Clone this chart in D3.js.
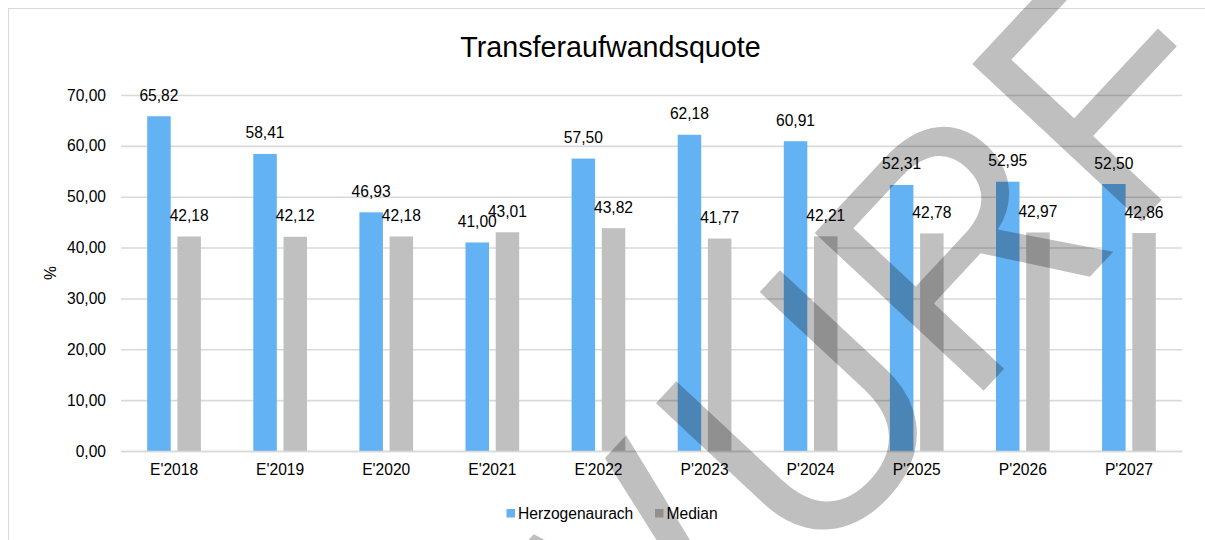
<!DOCTYPE html>
<html>
<head>
<meta charset="utf-8">
<script src="https://cdn.jsdelivr.net/npm/d3@7"></script>
<style>
  html, body { margin: 0; padding: 0; background: #fff; }
  svg { display: block; }
  text { font-family: "Liberation Sans", Arial, sans-serif; fill: #000; }
</style>
</head>
<body>
<svg id="chart" width="1205" height="540"></svg>
<script>
const categories = ["E'2018", "E'2019", "E'2020", "E'2021", "E'2022", "P'2023", "P'2024", "P'2025", "P'2026", "P'2027"];
const seriesNames = ["Herzogenaurach", "Median"];
const herzogenaurach = [65.82, 58.41, 46.93, 41.00, 57.50, 62.18, 60.91, 52.31, 52.95, 52.50];
const median = [42.18, 42.12, 42.18, 43.01, 43.82, 41.77, 42.21, 42.78, 42.97, 42.86];
const yTicks = [0, 10, 20, 30, 40, 50, 60, 70];
const title = "Transferaufwandsquote";
const yAxisTitle = "%";
const watermarkParts = ["ENTW", "URF"];

const colors = { "Herzogenaurach": "#63b2f3", "Median": "#c0c0c0" };
const seriesValues = { "Herzogenaurach": herzogenaurach, "Median": median };

const locale = d3.formatLocale({ decimal: ",", thousands: ".", grouping: [3], currency: ["", " €"] });
const fmt = locale.format(".2f");

const svg = d3.select("#chart");
const m = { left: 121, right: 1182, top: 95, bottom: 451 };

// chart frame
svg.append("rect").attr("x", 8.5).attr("y", 8.5).attr("width", 1400).attr("height", 700)
  .attr("fill", "#fff").attr("stroke", "#d9d9d9").attr("stroke-width", 1);

const x = d3.scaleBand().domain(categories).range([m.left, m.right]).paddingInner(0).paddingOuter(0);
const bw = x.bandwidth();
const x1 = d3.scaleBand().domain(seriesNames).range([bw * 0.247, bw * 0.753]).paddingInner(0.222).paddingOuter(0);
const y = d3.scaleLinear().domain([0, 70]).range([m.bottom, m.top]);

// gridlines + y labels
const yAxis = d3.axisLeft(y).tickValues(yTicks).tickSize(-(m.right - m.left)).tickFormat(fmt).tickPadding(15);
const gy = svg.append("g").attr("transform", `translate(${m.left},0)`).call(yAxis);
gy.select(".domain").remove();
gy.selectAll(".tick line").attr("stroke", "#d9d9d9").attr("stroke-width", 1.6);
gy.selectAll(".tick text").attr("font-size", "15.6px").attr("font-family", "Liberation Sans, Arial, sans-serif").attr("fill", "#000");

// bars
const groups = svg.append("g").selectAll("g").data(categories).join("g")
  .attr("transform", d => `translate(${x(d)},0)`);

seriesNames.forEach(s => {
  groups.append("rect")
    .attr("x", x1(s))
    .attr("width", x1.bandwidth())
    .attr("y", (d, i) => y(seriesValues[s][i]))
    .attr("height", (d, i) => y(0) - y(seriesValues[s][i]))
    .attr("fill", colors[s]);
});

seriesNames.forEach(s => {
  groups.append("text")
    .attr("x", x1(s) + x1.bandwidth() / 2)
    .attr("y", (d, i) => y(seriesValues[s][i]) - 15.5)
    .attr("text-anchor", "middle")
    .attr("font-size", "15.6px")
    .text((d, i) => fmt(seriesValues[s][i]));
});

// x axis labels
const xAxis = d3.axisBottom(x).tickSize(0).tickPadding(13);
const gx = svg.append("g").attr("transform", `translate(0,${m.bottom})`).call(xAxis);
gx.select(".domain").attr("stroke", "#d9d9d9").attr("stroke-width", 1.6);
gx.selectAll(".tick text").attr("font-size", "15.6px").attr("font-family", "Liberation Sans, Arial, sans-serif").attr("fill", "#000");

// y axis title
svg.append("text").attr("transform", `translate(56,273) rotate(-90)`)
  .attr("text-anchor", "middle").attr("font-size", "15.6px").text(yAxisTitle);

// title
svg.append("text").attr("x", 610.5).attr("y", 57).attr("text-anchor", "middle")
  .attr("font-size", "28.7px").text(title);

// legend
const legend = svg.append("g");
const legendItems = [{ name: seriesNames[0], x: 506.5 }, { name: seriesNames[1], x: 655 }];
legendItems.forEach(it => {
  legend.append("rect").attr("x", it.x).attr("y", 509).attr("width", 8.5).attr("height", 8.5).attr("fill", colors[it.name]);
  legend.append("text").attr("x", it.x + 11.5).attr("y", 518.5).attr("font-size", "15.6px").text(it.name);
});

// watermark
const wm = svg.append("text")
  .attr("transform", "translate(1141,222) rotate(-47) scale(1,1.05)")
  .attr("x", -1448)
  .attr("font-size", "320px")
  .attr("font-family", "Liberation Sans, Arial, sans-serif")
  .style("fill", "#000").style("fill-opacity", 0.25);
wm.append("tspan").text(watermarkParts[0]);
wm.append("tspan").attr("dx", 18).text(watermarkParts[1]);
</script>
</body>
</html>
